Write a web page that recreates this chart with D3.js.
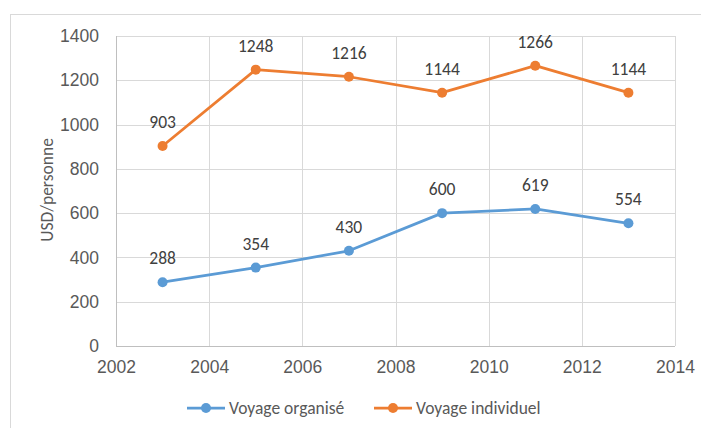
<!DOCTYPE html>
<html><head><meta charset="utf-8">
<script src="https://cdn.jsdelivr.net/npm/d3@7"></script>
<style>body{margin:0;background:#fff;} svg{display:block;font-family:Calibri,Carlito,"Open Sans","Liberation Sans",sans-serif;}</style>
</head><body>
<svg id="c" width="701" height="428"></svg>
<script>
const years = [2003, 2005, 2007, 2009, 2011, 2013];
const organise = [288, 354, 430, 600, 619, 554];
const individuel = [903, 1248, 1216, 1144, 1266, 1144];
const seriesNames = ["Voyage organisé", "Voyage individuel"];
const colors = ["#5B9BD5", "#ED7D31"];
const xTicks = [2002, 2004, 2006, 2008, 2010, 2012, 2014];
const yTicks = [0, 200, 400, 600, 800, 1000, 1200, 1400];
const yTitle = "USD/personne";
const FS = "17.5px";

const svg = d3.select("#c");
svg.append("rect").attr("x",10.5).attr("y",14.5).attr("width",720).attr("height",440)
  .attr("fill","none").attr("stroke","#d9d9d9").attr("stroke-width",1);

const x = d3.scaleLinear().domain([2002,2014]).range([116,675]);
const y = d3.scaleLinear().domain([0,1400]).range([346,36]);

const grid = svg.append("g");
grid.selectAll("line.h").data(yTicks).join("line")
  .attr("x1",x(2002)).attr("x2",x(2014)).attr("y1",d=>Math.round(y(d))+0.5).attr("y2",d=>Math.round(y(d))+0.5)
  .attr("stroke","#d9d9d9").attr("stroke-width",1);
grid.selectAll("line.v").data(xTicks).join("line")
  .attr("y1",y(0)).attr("y2",y(1400)).attr("x1",d=>Math.round(x(d))+0.5).attr("x2",d=>Math.round(x(d))+0.5)
  .attr("stroke","#d9d9d9").attr("stroke-width",1);
svg.append("line").attr("x1",x(2002)).attr("x2",x(2014)).attr("y1",Math.round(y(0))+0.5).attr("y2",Math.round(y(0))+0.5).attr("stroke","#bfbfbf");
svg.append("line").attr("x1",Math.round(x(2002))+0.5).attr("x2",Math.round(x(2002))+0.5).attr("y1",y(0)).attr("y2",y(1400)).attr("stroke","#bfbfbf");

const yAxis = d3.axisLeft(y).tickValues(yTicks).tickSize(0).tickPadding(17).tickFormat(d3.format("d"));
const gy = svg.append("g").attr("transform",`translate(${x(2002)},0)`).call(yAxis);
gy.select(".domain").remove();
gy.selectAll("text").attr("fill","#595959").style("font-size",FS);

const xAxis = d3.axisBottom(x).tickValues(xTicks).tickSize(0).tickPadding(15).tickFormat(d3.format("d"));
const gx = svg.append("g").attr("transform",`translate(0,${y(0)})`).call(xAxis);
gx.select(".domain").remove();
gx.selectAll("text").attr("fill","#595959").style("font-size",FS);

svg.append("text").attr("transform","translate(47,190) rotate(-90)").attr("text-anchor","middle")
  .attr("dy","0.35em").attr("fill","#595959").style("font-size",FS).text(yTitle);

const data = [organise, individuel];
const line = d3.line().x((d,i)=>x(years[i])).y(d=>y(d));
data.forEach((vals,si)=>{
  const g = svg.append("g");
  g.append("path").datum(vals).attr("d",line).attr("fill","none").attr("stroke",colors[si]).attr("stroke-width",2.75).attr("stroke-linejoin","round");
  g.selectAll("circle").data(vals).join("circle").attr("cx",(d,i)=>x(years[i])).attr("cy",d=>y(d)).attr("r",5).attr("fill",colors[si]);
  g.selectAll("text").data(vals).join("text").attr("x",(d,i)=>x(years[i])).attr("y",d=>y(d)-18)
    .attr("text-anchor","middle").attr("fill","#404040").style("font-size",FS).text(d=>d);
});

const leg = [[187,229],[374,416]];
seriesNames.forEach((n,i)=>{
  const [lx,tx]=leg[i];
  svg.append("line").attr("x1",lx).attr("x2",lx+38).attr("y1",408).attr("y2",408).attr("stroke",colors[i]).attr("stroke-width",2.75);
  svg.append("circle").attr("cx",lx+19).attr("cy",408).attr("r",5).attr("fill",colors[i]);
  svg.append("text").attr("x",tx).attr("y",408).attr("dy","0.35em").attr("fill","#595959").style("font-size",FS).text(n);
});
</script>
</body></html>
